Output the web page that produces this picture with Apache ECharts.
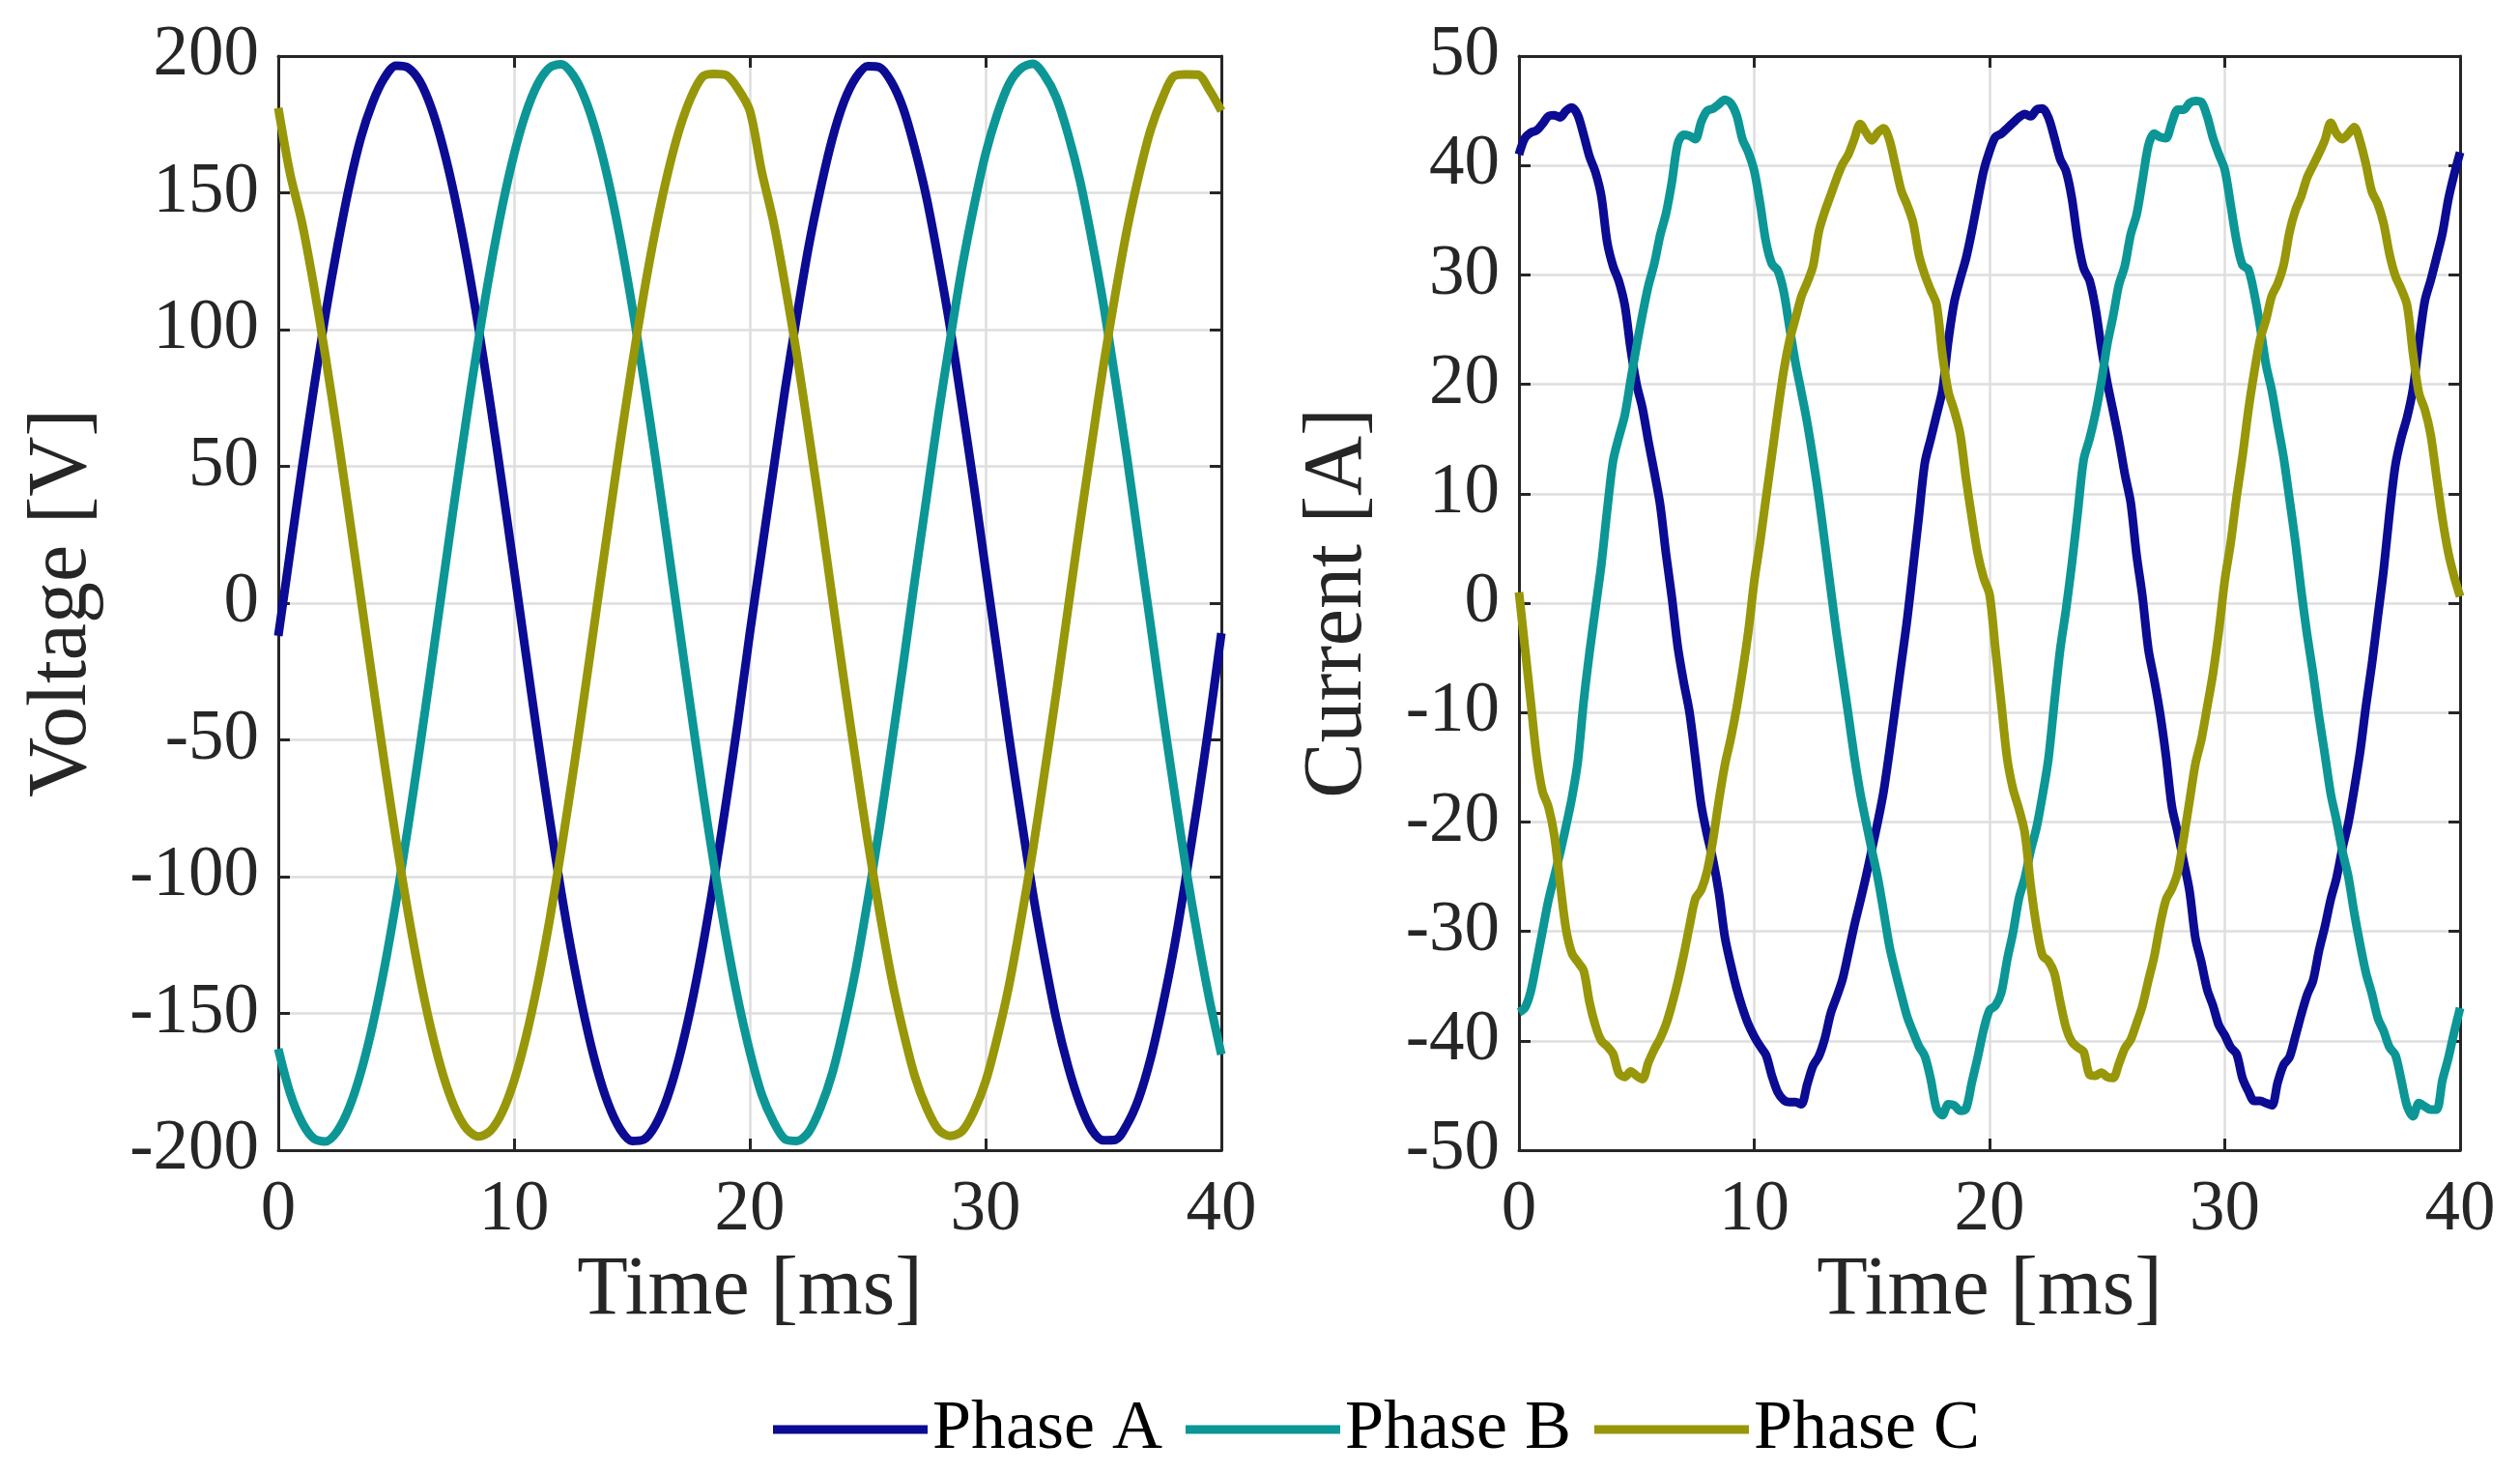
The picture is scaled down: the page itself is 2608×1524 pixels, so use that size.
<!DOCTYPE html>
<html>
<head>
<meta charset="utf-8">
<title>Phase voltage and current</title>
<script src="https://cdn.jsdelivr.net/npm/echarts@6/dist/echarts.min.js"></script>
<style>
  html, body { margin: 0; padding: 0; background: #ffffff; }
  #chart { width: 2608px; height: 1524px; }
</style>
</head>
<body>
<div id="chart"></div>
<script>
// sample spacing (ms) of the traces
var stepV = 0.5;
var stepI = 0.25;

var phaseNames = ['Phase A', 'Phase B', 'Phase C'];
var phaseColors = ['#0b0b93', '#0c9696', '#979709'];
var timeTicks = [0, 10, 20, 30, 40];

// Voltage [V], t = 0..40 ms every 0.5 ms
var voltA = [
    -12, 18.5, 49, 78, 105.5, 130, 152, 170, 183, 192,
    196.5, 195.8, 190.8, 180.8, 166.3, 147.8, 125.6, 100.3, 72.5, 43,
    12.4, -18.5, -49, -78.2, -105.6, -130.3, -151.8, -169.6, -183.2, -192.3,
    -196.6, -196.1, -190.8, -180.8, -166.3, -147.8, -125.6, -100.3, -72.5, -43,
    -11, 18.8, 48.6, 78.4, 105.2, 130.5, 151.6, 169.8, 183.4, 192.1,
    196.3, 195.9, 190.6, 181, 166.1, 148, 125.4, 100.5, 72.3, 43.2,
    12.2, -18.3, -49.2, -78, -105.8, -130.1, -152, -169.4, -183, -192.5,
    -196.4, -196.2, -190.6, -181, -166.5, -147.6, -125.8, -100.1, -72.7, -42.8,
    -11
];
var voltB = [
    -163, -179.1, -189.7, -195.7, -196.8, -193.1, -184.6, -171.6, -154.4, -133.4,
    -109, -82, -53, -22.6, 8.3, 38.9, 68.7, 96.7, 122.4, 145,
    164.1, 179.1, 189.7, 195.7, 197, 193.1, 184.6, 171.6, 154.4, 133.4,
    109, 82, 53, 22.6, -8.3, -38.9, -68.7, -96.7, -122.4, -145,
    -164, -179.5, -189.5, -196, -196.6, -193.3, -184.4, -171.8, -154.2, -133.6,
    -108.8, -82.2, -52.8, -22.8, 8.5, 38.7, 68.9, 96.5, 122.6, 144.8,
    164.3, 178.9, 189.9, 195.5, 197.2, 192.9, 184.8, 171.4, 154.6, 133.2,
    109.2, 81.8, 53.2, 22.4, -8.1, -39.1, -68.5, -96.9, -122.2, -145.2,
    -165
];
var voltC = [
    181, 157, 139.3, 116.3, 90.3, 62.2, 32.5, 2, -28.5, -58.3,
    -86.7, -113, -136.4, -156.5, -172.8, -184.8, -192.3, -195, -192.9, -186.1,
    -174.7, -158.9, -139.3, -116.3, -90.3, -62.2, -32.5, -2, 28.5, 58.3,
    86.7, 113, 136.4, 156.5, 172.8, 184.8, 192.5, 193.5, 193, 188,
    180, 158, 139.5, 116.1, 90.5, 62, 32.7, 1.8, -28.7, -58.1,
    -86.9, -112.8, -136.6, -156.3, -173, -184.6, -192.5, -194.8, -193.1, -185.9,
    -174.9, -158.7, -139.5, -116.1, -90.5, -62, -32.7, -1.8, 28.7, 58.1,
    86.9, 112.8, 136.6, 156.3, 173, 184.6, 192.7, 193.3, 193.2, 187.5,
    180
];

// Current [A], t = 0..40 ms every 0.25 ms
var currA = [
    41.0, 42.5, 43.0, 43.2, 43.8, 44.5, 44.6, 44.4, 45.0, 45.3,
    44.6, 42.8, 40.8, 39.4, 37.2, 33.0, 30.8, 29.4, 27.2, 23.2,
    20.0, 17.8, 14.8, 12.0, 9.0, 4.5, 0.5, -4.0, -7.2, -10.0,
    -14.2, -18.5, -21.2, -23.5, -26.5, -30.5, -33.0, -35.2, -37.0, -38.5,
    -39.6, -40.5, -41.3, -43.2, -44.7, -45.4, -45.6, -45.6, -45.8, -44.0,
    -42.3, -41.4, -39.8, -37.5, -36.0, -34.4, -32.0, -29.5, -27.3, -25.0,
    -22.5, -20.0, -17.2, -13.5, -9.5, -5.5, -1.5, 3.2, 8.0, 12.8,
    15.0, 17.2, 19.5, 24.0, 27.5, 29.6, 31.5, 34.0, 36.8, 39.5,
    41.3, 42.6, 42.9, 43.4, 43.9, 44.4, 44.7, 44.5, 45.1, 45.2,
    44.4, 42.6, 40.6, 39.5, 37.0, 33.2, 30.6, 29.5, 27.0, 23.4,
    20.2, 17.6, 14.9, 11.8, 9.2, 4.4, 0.6, -4.2, -7.0, -10.1,
    -14.0, -18.6, -21.0, -23.6, -26.3, -30.6, -32.8, -35.3, -36.8, -38.6,
    -39.5, -40.6, -41.2, -43.4, -44.6, -45.5, -45.5, -45.7, -45.9, -43.8,
    -42.2, -41.5, -39.6, -37.6, -35.8, -34.5, -31.8, -29.6, -27.1, -25.1,
    -22.4, -20.1, -17.0, -13.6, -9.4, -5.6, -1.3, 3.0, 8.2, 12.6,
    15.1, 17.0, 19.6, 23.8, 27.6, 29.5, 31.6, 33.8, 36.9, 39.2,
    41.2
];
var currB = [
    -37.4, -37.0, -35.5, -32.8, -30.0, -27.2, -25.0, -22.8, -20.4, -17.8,
    -14.5, -9.0, -4.5, -0.5, 3.5, 8.5, 13.0, 15.2, 17.2, 20.4,
    23.5, 26.4, 29.0, 31.0, 33.6, 35.6, 38.5, 42.0, 42.8, 42.7,
    42.4, 44.0, 45.0, 45.2, 45.6, 46.0, 45.7, 44.6, 42.4, 41.2,
    39.5, 36.5, 33.0, 31.0, 30.4, 28.5, 25.2, 22.0, 19.3, 16.5,
    13.2, 9.6, 5.5, 1.3, -2.8, -6.5, -10.2, -14.0, -17.3, -20.0,
    -22.6, -25.1, -28.2, -31.4, -33.7, -35.8, -37.8, -39.2, -40.5, -41.4,
    -43.5, -46.2, -46.8, -45.8, -45.9, -46.4, -46.2, -43.8, -41.5, -39.0,
    -37.2, -36.8, -35.6, -32.6, -30.1, -27.0, -25.1, -22.6, -20.5, -17.6,
    -14.3, -9.2, -4.3, -0.6, 3.6, 8.3, 13.1, 15.0, 17.3, 20.2,
    23.6, 26.2, 29.1, 30.8, 33.7, 35.5, 38.6, 41.8, 42.9, 42.6,
    42.5, 43.9, 45.1, 45.1, 45.7, 45.9, 45.8, 44.5, 42.5, 41.0,
    39.6, 36.4, 33.1, 30.9, 30.5, 28.3, 25.3, 21.8, 19.4, 16.3,
    13.3, 9.5, 5.6, 1.1, -2.9, -6.4, -10.3, -13.8, -17.4, -19.9,
    -22.7, -25.0, -28.3, -31.2, -33.8, -35.7, -37.9, -39.1, -40.6, -41.3,
    -43.6, -46.0, -46.9, -45.7, -46.0, -46.3, -46.3, -43.6, -41.6, -39.2,
    -37.0
];
var currC = [
    1.0, -4.0, -9.0, -14.0, -17.2, -18.6, -21.2, -25.6, -29.8, -32.0,
    -32.8, -33.6, -36.5, -38.6, -40.0, -40.5, -41.2, -43.0, -43.3, -42.8,
    -43.2, -43.5, -42.0, -40.8, -39.8, -38.5, -36.7, -34.6, -32.2, -29.5,
    -27.0, -26.2, -24.5, -21.6, -18.0, -14.8, -12.4, -9.6, -6.3, -2.6,
    2.0, 5.6, 9.6, 13.5, 17.5, 21.2, 24.0, 26.0, 28.0, 29.3,
    30.8, 34.0, 35.8, 37.3, 38.8, 40.1, 41.0, 42.4, 43.8, 43.0,
    42.3, 43.0, 43.4, 42.3, 40.0, 37.7, 36.4, 34.8, 31.8, 30.0,
    28.6, 27.3, 22.7, 19.3, 17.6, 15.5, 11.4, 7.8, 4.5, 2.3,
    0.8, -4.2, -9.2, -14.2, -17.0, -18.8, -21.0, -25.8, -29.6, -32.2,
    -32.7, -33.8, -36.4, -38.8, -40.1, -40.6, -41.0, -43.1, -43.2, -42.9,
    -43.3, -43.4, -42.1, -40.7, -39.9, -38.4, -36.8, -34.5, -32.3, -29.4,
    -27.1, -26.1, -24.6, -21.5, -18.1, -14.7, -12.5, -9.5, -6.4, -2.5,
    2.1, 5.5, 9.7, 13.4, 17.6, 21.1, 24.1, 25.9, 28.1, 29.2,
    30.9, 33.9, 35.9, 37.2, 38.9, 40.0, 41.1, 42.3, 43.9, 42.9,
    42.4, 42.9, 43.5, 42.2, 40.1, 37.6, 36.5, 34.7, 31.9, 29.9,
    28.7, 27.2, 22.8, 19.2, 17.7, 15.4, 11.5, 7.7, 4.6, 2.4,
    0.6
];

var voltTicks = { min: -200, max: 200, interval: 50 };
var currTicks = { min: -50, max: 50, interval: 10 };

var FONT = '"Liberation Serif", "Times New Roman", "DejaVu Serif", serif';
var INK = '#262626';

function withTime(step, vals) {
    var out = [];
    for (var i = 0; i < vals.length; i++) {
        out.push([i * step, vals[i]]);
    }
    return out;
}

function xAxisFor(grid, pos, main) {
    return {
        type: 'value',
        gridIndex: grid,
        position: pos,
        min: timeTicks[0],
        max: timeTicks[timeTicks.length - 1],
        interval: 10,
        name: main ? 'Time [ms]' : '',
        nameLocation: 'middle',
        nameGap: 102,
        nameTextStyle: { fontFamily: FONT, fontSize: 86, lineHeight: 86, color: INK },
        axisLine: { show: true, onZero: false, lineStyle: { color: INK, width: 3 } },
        axisTick: { show: true, inside: true, length: 12, lineStyle: { color: INK, width: 3 } },
        axisLabel: {
            show: main, margin: 26, fontFamily: FONT, fontSize: 73, lineHeight: 73, color: INK
        },
        splitLine: { show: main, lineStyle: { color: '#dedede', width: 2.5 } }
    };
}

function yAxisFor(grid, pos, main, ticks, title, gap) {
    return {
        type: 'value',
        gridIndex: grid,
        position: pos,
        min: ticks.min,
        max: ticks.max,
        interval: ticks.interval,
        name: main ? title : '',
        nameLocation: 'middle',
        nameGap: gap,
        nameTextStyle: { fontFamily: FONT, fontSize: 86, lineHeight: 86, color: INK },
        axisLine: { show: true, onZero: false, lineStyle: { color: INK, width: 3 } },
        axisTick: { show: true, inside: true, length: 12, lineStyle: { color: INK, width: 3 } },
        axisLabel: {
            show: main, margin: 20, fontFamily: FONT, fontSize: 73, lineHeight: 73, color: INK
        },
        splitLine: { show: main, lineStyle: { color: '#dedede', width: 2.5 } }
    };
}

function trace(name, xi, yi, step, vals) {
    return {
        name: name,
        type: 'line',
        xAxisIndex: xi,
        yAxisIndex: yi,
        data: withTime(step, vals),
        showSymbol: false,
        smooth: 0.3,
        clip: true,
        lineStyle: { width: 9, join: 'round' },
        z: 3
    };
}

var chart = echarts.init(document.getElementById('chart'), null, { renderer: 'canvas' });
chart.setOption({
    animation: false,
    backgroundColor: '#ffffff',
    color: phaseColors,
    grid: [
        { left: 288, top: 58, width: 976, height: 1132 },
        { left: 1572, top: 58, width: 974, height: 1132 }
    ],
    xAxis: [
        xAxisFor(0, 'bottom', true),
        xAxisFor(0, 'top', false),
        xAxisFor(1, 'bottom', true),
        xAxisFor(1, 'top', false)
    ],
    yAxis: [
        yAxisFor(0, 'left', true, voltTicks, 'Voltage [V]', 180),
        yAxisFor(0, 'right', false, voltTicks, '', 0),
        yAxisFor(1, 'left', true, currTicks, 'Current [A]', 144),
        yAxisFor(1, 'right', false, currTicks, '', 0)
    ],
    legend: {
        data: phaseNames,
        left: 795,
        top: 1438,
        orient: 'horizontal',
        icon: 'rect',
        itemWidth: 160,
        itemHeight: 9,
        itemGap: 24,
        textStyle: { fontFamily: FONT, fontSize: 72, lineHeight: 72, color: '#000000' }
    },
    series: [
        trace(phaseNames[0], 0, 0, stepV, voltA),
        trace(phaseNames[1], 0, 0, stepV, voltB),
        trace(phaseNames[2], 0, 0, stepV, voltC),
        trace(phaseNames[0], 2, 2, stepI, currA),
        trace(phaseNames[1], 2, 2, stepI, currB),
        trace(phaseNames[2], 2, 2, stepI, currC)
    ]
});
</script>
</body>
</html>
